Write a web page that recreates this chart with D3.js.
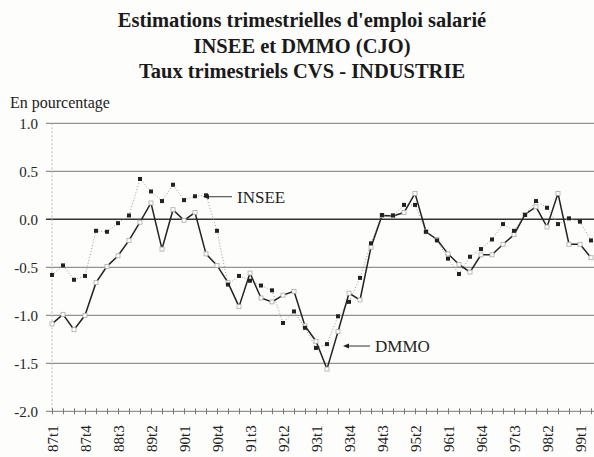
<!DOCTYPE html>
<html>
<head>
<meta charset="utf-8">
<script src="https://cdn.jsdelivr.net/npm/d3@7"></script>
<style>
  body { margin: 0; background: #fdfdfb; }
  svg text { font-family: 'Liberation Serif', 'Times New Roman', 'DejaVu Serif', serif !important; }
</style>
</head>
<body>
<div id="chart"></div>
<script>
(function(){

var quarters = ["87t1","87t2","87t3","87t4","88t1","88t2","88t3","88t4",
    "89t1","89t2","89t3","89t4","90t1","90t2","90t3","90t4",
    "91t1","91t2","91t3","91t4","92t1","92t2","92t3","92t4",
    "93t1","93t2","93t3","93t4","94t1","94t2","94t3","94t4",
    "95t1","95t2","95t3","95t4","96t1","96t2","96t3","96t4",
    "97t1","97t2","97t3","97t4","98t1","98t2","98t3","98t4",
    "99t1","99t2"];

var insee = [-0.58, -0.48, -0.63, -0.59, -0.12, -0.13, -0.04, 0.04, 0.42, 0.29,
    0.19, 0.36, 0.20, 0.24, 0.25, -0.12, -0.68, -0.59, -0.64, -0.69,
    -0.74, -1.08, -0.96, -1.13, -1.34, -1.30, -1.01, -0.86, -0.61, -0.25,
    0.045, 0.04, 0.15, 0.15, -0.13, -0.22, -0.41, -0.57, -0.39, -0.31,
    -0.21, -0.05, -0.12, 0.045, 0.19, 0.12, -0.05, 0.01, -0.025, -0.22];

var dmmo = [-1.09, -0.99, -1.15, -1.00, -0.66, -0.49, -0.38, -0.22, -0.03, 0.17,
    -0.31, 0.10, -0.01, 0.07, -0.36, -0.48, -0.66, -0.91, -0.56, -0.82,
    -0.86, -0.79, -0.75, -1.11, -1.27, -1.56, -1.17, -0.77, -0.84, -0.29,
    0.04, 0.035, 0.07, 0.27, -0.13, -0.21, -0.36, -0.47, -0.55, -0.37,
    -0.37, -0.26, -0.16, 0.05, 0.13, -0.08, 0.27, -0.26, -0.26, -0.40];

var yTicks = [-2.0, -1.5, -1.0, -0.5, 0.0, 0.5, 1.0];

var titleLines = ["Estimations trimestrielles d'emploi salarié",
    "INSEE et DMMO (CJO)",
    "Taux trimestriels CVS - INDUSTRIE"];

var W = 594, H = 457;

var x = d3.scalePoint().domain(quarters).range([52, 591]);
var y = d3.scaleLinear().domain([-2, 1]).range([411.3, 123.3]);

var svg = d3.select("#chart").append("svg")
    .attr("width", W)
    .attr("height", H);

// title
svg.selectAll("text.title")
    .data(titleLines)
  .enter().append("text")
    .attr("class", "title")
    .attr("x", 302)
    .attr("y", function(d, i) { return 27 + i * 25.5; })
    .attr("text-anchor", "middle")
    .style("font-size", "20.5px")
    .style("font-weight", "bold")
    .style("fill", "#1a1a1a")
    .text(function(d) { return d; });

svg.append("text")
    .attr("x", 10)
    .attr("y", 108)
    .style("font-size", "16px")
    .style("fill", "#222")
    .text("En pourcentage");

// y axis + gridlines
var yAxis = d3.axisLeft(y)
    .tickValues(yTicks)
    .tickSize(0)
    .tickPadding(8)
    .tickFormat(function(d) { return d.toFixed(1); });

var gy = svg.append("g")
    .attr("transform", "translate(46,0)")
    .call(yAxis);
gy.select(".domain").remove();
gy.selectAll("text")
    .style("font-size", "15px")
    .style("fill", "#222");

svg.append("g").selectAll("line")
    .data(yTicks.filter(function(d) { return d > -2; }))
  .enter().append("line")
    .attr("x1", 46).attr("x2", W)
    .attr("y1", function(d) { return y(d); })
    .attr("y2", function(d) { return y(d); })
    .style("stroke", function(d) { return d === 0 ? "#333" : "#777"; })
    .style("stroke-width", function(d) { return d === 0 ? 1.4 : 1; });

// faint vertical axis
svg.append("line")
    .attr("x1", 52).attr("x2", 52)
    .attr("y1", y(1)).attr("y2", y(-2))
    .style("stroke", "#bbb")
    .style("stroke-dasharray", "2,2");

// x axis
var xAxis = d3.axisBottom(x)
    .tickSize(3)
    .tickPadding(10)
    .tickFormat(function(d, i) { return i % 3 === 0 ? d : ""; });

var gx = svg.append("g")
    .attr("transform", "translate(0," + y(-2) + ")")
    .call(xAxis);
gx.select(".domain")
    .attr("d", "M46,0H" + W)
    .style("stroke", "#777");
gx.selectAll(".tick line")
    .attr("y1", -3)
    .style("stroke", "#777");
gx.selectAll(".tick text")
    .attr("transform", "rotate(-90)")
    .attr("text-anchor", "end")
    .attr("x", -14)
    .attr("y", 0)
    .attr("dy", "0.35em")
    .style("font-size", "15px")
    .style("fill", "#222");

// lines
var line = function(vals) {
    return d3.line()
        .x(function(d, i) { return x(quarters[i]); })
        .y(function(d) { return y(d); })(vals);
};

svg.append("path")
    .attr("d", line(insee))
    .style("fill", "none")
    .style("stroke", "#999")
    .style("stroke-width", 1)
    .style("stroke-dasharray", "1,2");

svg.append("path")
    .attr("d", line(dmmo))
    .style("fill", "none")
    .style("stroke", "#222")
    .style("stroke-width", 1.5);

svg.append("g").selectAll("rect")
    .data(dmmo)
  .enter().append("rect")
    .attr("x", function(d, i) { return x(quarters[i]) - 2; })
    .attr("y", function(d) { return y(d) - 2; })
    .attr("width", 4).attr("height", 4)
    .style("fill", "#fff")
    .style("stroke", "#aaa")
    .style("stroke-width", 0.8);

svg.append("g").selectAll("rect")
    .data(insee)
  .enter().append("rect")
    .attr("x", function(d, i) { return x(quarters[i]) - 2; })
    .attr("y", function(d) { return y(d) - 2; })
    .attr("width", 4).attr("height", 4)
    .style("fill", "#222");

// annotations
function label(x1, x2, yy, txt) {
    svg.append("line")
        .attr("x1", x1 + 5).attr("x2", x2)
        .attr("y1", yy).attr("y2", yy)
        .style("stroke", "#333");
    svg.append("path")
        .attr("d", "M" + x1 + "," + yy + "l6,-2.5v5z")
        .style("fill", "#222");
    svg.append("text")
        .attr("x", x2 + 5)
        .attr("y", yy + 6)
        .style("font-size", "17px")
        .style("fill", "#222")
        .text(txt);
}
label(203, 232, y(0.235), "INSEE");
label(343, 370, y(-1.32), "DMMO");

})();
</script>
</body>
</html>
